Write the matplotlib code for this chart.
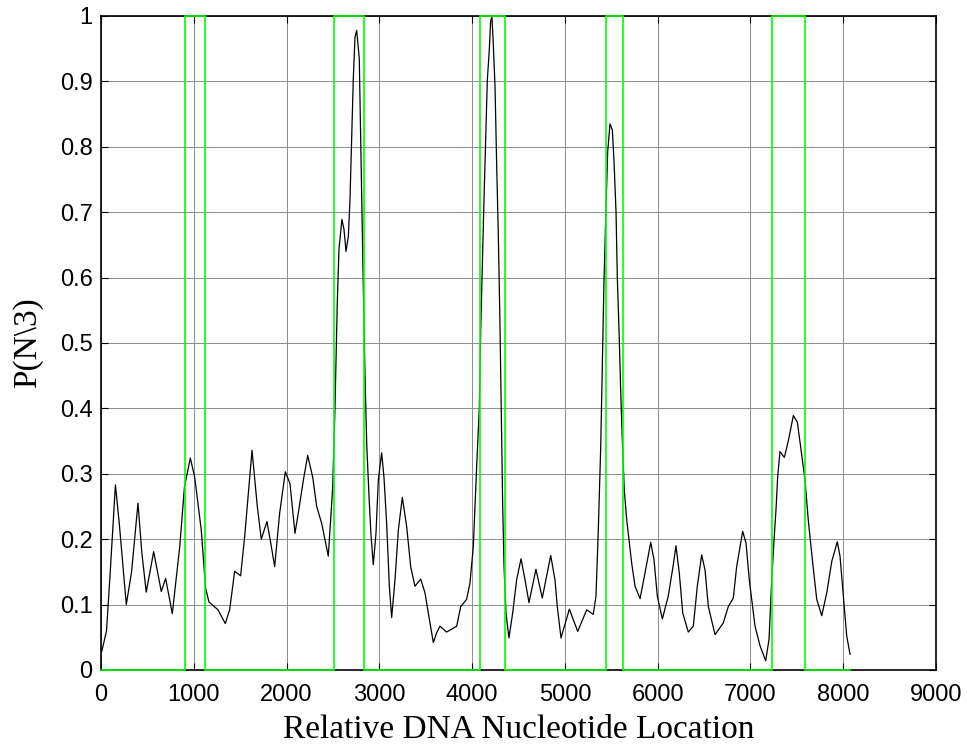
import matplotlib
matplotlib.use("Agg")
import matplotlib.pyplot as plt

# probability curve
pos = [10, 60, 100, 156, 200, 273, 330, 399, 440, 488, 568, 610, 650, 697, 769,
       850, 900, 963, 1010, 1081, 1128, 1164, 1261, 1340, 1387, 1441, 1505, 1549,
       1628, 1685, 1728, 1789, 1836, 1872, 1926, 1987, 2037, 2091, 2127, 2181, 2228,
       2282, 2325, 2379, 2450, 2497, 2522, 2547, 2565, 2597, 2619, 2641, 2666, 2684,
       2702, 2719, 2738, 2756, 2784, 2810, 2827, 2845, 2864, 2889, 2910, 2935, 2964,
       2989, 3025, 3050, 3079, 3108, 3133, 3169, 3205, 3248, 3295, 3338, 3384, 3446,
       3492, 3528, 3582, 3618, 3654, 3726, 3834, 3877, 3941, 3977, 4013, 4049, 4078,
       4092, 4110, 4128, 4146, 4164, 4185, 4200, 4214, 4228, 4247, 4265, 4282, 4300,
       4329, 4344, 4365, 4397, 4437, 4480, 4527, 4570, 4613, 4688, 4756, 4847, 4893,
       4918, 4958, 5048, 5138, 5235, 5306, 5335, 5360, 5386, 5403, 5421, 5443, 5461,
       5486, 5511, 5529, 5551, 5565, 5586, 5601, 5618, 5640, 5666, 5720, 5756, 5810,
       5863, 5925, 5960, 5996, 6050, 6114, 6165, 6197, 6233, 6270, 6330, 6384, 6427,
       6474, 6510, 6546, 6618, 6707, 6761, 6815, 6851, 6916, 6952, 6987, 7049, 7103,
       7164, 7200, 7229, 7254, 7275, 7293, 7318, 7365, 7409, 7462, 7505, 7541, 7588,
       7623, 7671, 7714, 7768, 7822, 7876, 7936, 7965, 8001, 8037, 8073]
prob = [0.029, 0.06, 0.15, 0.283, 0.22, 0.10, 0.15, 0.255, 0.18, 0.119, 0.181, 0.15,
        0.12, 0.14, 0.086, 0.19, 0.28, 0.324, 0.295, 0.214, 0.125, 0.104, 0.092,
        0.071, 0.092, 0.151, 0.144, 0.204, 0.336, 0.25, 0.20, 0.227, 0.189, 0.158,
        0.24, 0.303, 0.285, 0.209, 0.24, 0.29, 0.328, 0.295, 0.25, 0.224, 0.174,
        0.278, 0.40, 0.562, 0.643, 0.689, 0.674, 0.64, 0.663, 0.719, 0.81, 0.902,
        0.968, 0.978, 0.935, 0.719, 0.587, 0.455, 0.346, 0.265, 0.207, 0.161, 0.209,
        0.29, 0.332, 0.295, 0.224, 0.128, 0.08, 0.138, 0.214, 0.264, 0.219, 0.158,
        0.128, 0.139, 0.118, 0.087, 0.042, 0.057, 0.067, 0.058, 0.067, 0.097, 0.108,
        0.133, 0.189, 0.311, 0.402, 0.516, 0.618, 0.719, 0.81, 0.902, 0.948, 0.993,
        0.998, 0.958, 0.892, 0.77, 0.668, 0.531, 0.255, 0.158, 0.087, 0.049, 0.087,
        0.138, 0.17, 0.138, 0.103, 0.154, 0.11, 0.175, 0.138, 0.097, 0.049, 0.093,
        0.059, 0.092, 0.085, 0.113, 0.214, 0.341, 0.461, 0.593, 0.706, 0.792, 0.835,
        0.826, 0.779, 0.70, 0.60, 0.507, 0.428, 0.355, 0.275, 0.23, 0.163, 0.128,
        0.109, 0.148, 0.195, 0.169, 0.113, 0.078, 0.113, 0.158, 0.19, 0.148, 0.087,
        0.058, 0.067, 0.128, 0.176, 0.153, 0.097, 0.054, 0.072, 0.097, 0.11, 0.158,
        0.212, 0.194, 0.138, 0.067, 0.037, 0.014, 0.047, 0.138, 0.199, 0.245, 0.295,
        0.334, 0.325, 0.351, 0.389, 0.379, 0.341, 0.29, 0.229, 0.163, 0.108, 0.083,
        0.118, 0.166, 0.196, 0.174, 0.113, 0.052, 0.024]

# gene (coding) regions marked in green
gene_start = [908, 2514, 4087, 5442, 7227]
gene_end = [1124, 2837, 4353, 5622, 7586]
seq_end = 8073

# build 0/1 indicator as a step line
gx = [0]
gy = [0]
for s, e in zip(gene_start, gene_end):
    gx += [s, s, e, e]
    gy += [0, 1, 1, 0]
gx.append(seq_end)
gy.append(0)

fig = plt.figure(figsize=(9.67, 7.46), dpi=100)
ax = fig.add_axes([0.1044, 0.1019, 0.8636, 0.8767])

ax.plot(pos, prob, color="black", lw=0.9, zorder=3)
ax.plot(gx, gy, color=(0, 1, 0), lw=1.2, zorder=4, clip_on=False)

ax.set_xlim(0, 9000)
ax.set_ylim(0, 1)
ax.set_xticks(range(0, 9001, 1000))
ax.set_yticks([i / 10 for i in range(11)])
ax.set_yticklabels(["0", "0.1", "0.2", "0.3", "0.4", "0.5", "0.6", "0.7", "0.8", "0.9", "1"])

ax.grid(True, color=(0.55, 0.55, 0.55), ls="-", lw=0.7)
ax.set_axisbelow(True)
ax.tick_params(direction="in", top=True, right=True, length=5, width=0.8)
ax.tick_params(axis="x", pad=10)
ax.tick_params(axis="y", pad=6)
for lab in ax.get_xticklabels() + ax.get_yticklabels():
    lab.set_family("Liberation Sans")
    lab.set_fontsize(17)
for sp in ax.spines.values():
    sp.set_linewidth(1.2)

ax.set_xlabel("Relative DNA Nucleotide Location", family="Liberation Serif",
              fontsize=24, labelpad=6)
ax.set_ylabel("P(N\\3)", family="Liberation Serif", fontsize=24, labelpad=12)

plt.savefig("out.png", dpi=100)
